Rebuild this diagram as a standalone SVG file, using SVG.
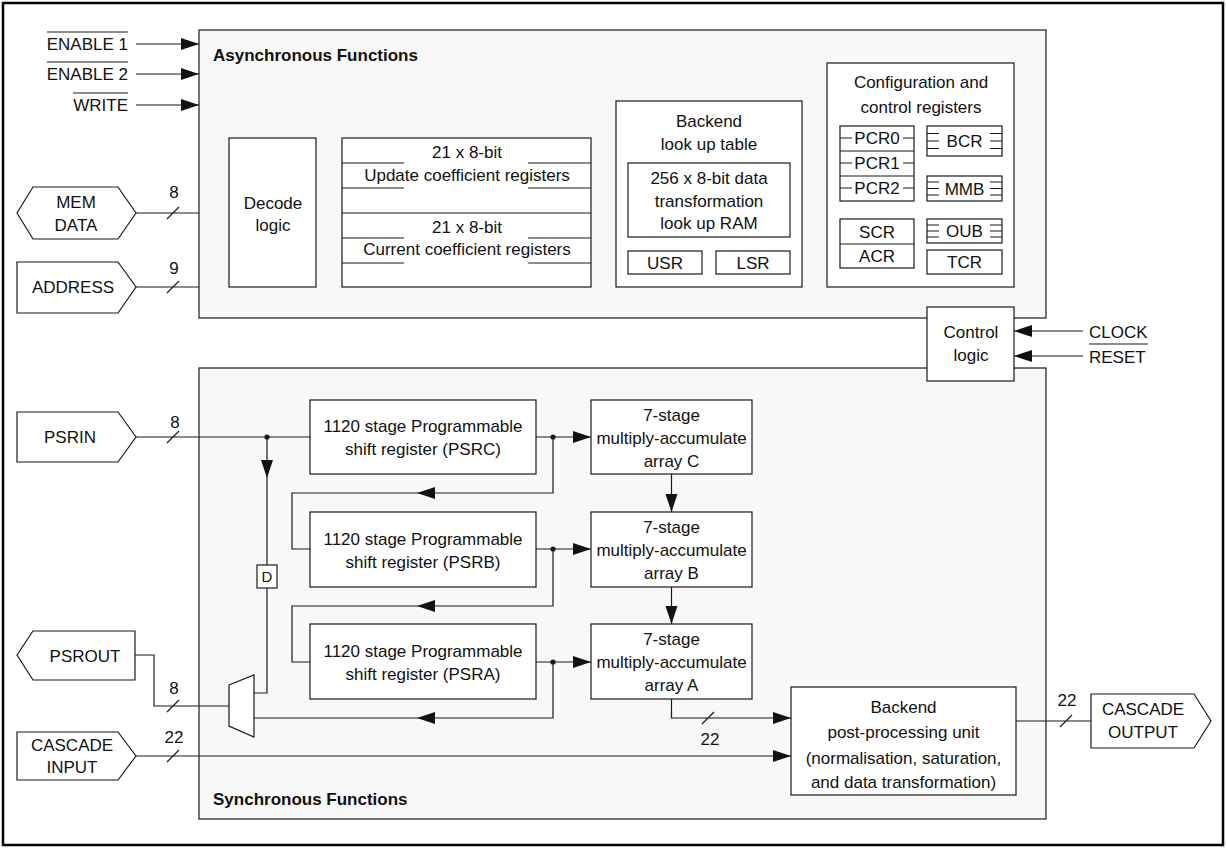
<svg xmlns="http://www.w3.org/2000/svg" xmlns:xlink="http://www.w3.org/1999/xlink" width="1226" height="848" viewBox="0 0 1226 848">
<defs>
<style>
.frame{fill:#fff;stroke:#000;stroke-width:2.5}
.region{fill:#f8f8f8;stroke:#1a1a1a;stroke-width:1.2}
.box{fill:#fff;stroke:#1a1a1a;stroke-width:1.2}
.w{fill:none;stroke:#1a1a1a;stroke-width:1.2}
.t{font-family:"Liberation Sans",Arial,sans-serif;font-size:17px;fill:#111;text-anchor:middle}
.l{text-anchor:start}
.r{text-anchor:end}
.b{font-weight:bold}
.dot{fill:#1a1a1a}
</style>
<path id="ah" d="M0,0 L-18,-6 L-18,6 Z" fill="#111"/>
</defs>
<rect class="frame" x="3" y="3" width="1220" height="842"/>

<g id="async-region">
<rect class="region" x="199" y="30" width="847" height="288"/>
<text class="t l b" x="213" y="61">Asynchronous Functions</text>
</g>
<g id="sync-region">
<rect class="region" x="199" y="368" width="847" height="451"/>
<text class="t l b" x="213" y="805">Synchronous Functions</text>
</g>

<g id="control-logic">
<rect class="box" x="927" y="307" width="87" height="74"/>
<text class="t" x="971" y="338">Control</text>
<text class="t" x="971" y="361">logic</text>
</g>

<g id="enable1">
<text class="t r" x="128" y="50">ENABLE 1</text>
<line class="w" x1="47" y1="32" x2="128" y2="32"/>
</g>
<g id="enable2">
<text class="t r" x="128" y="80">ENABLE 2</text>
<line class="w" x1="47" y1="62" x2="128" y2="62"/>
</g>
<g id="write">
<text class="t r" x="128" y="111">WRITE</text>
<line class="w" x1="73" y1="93" x2="128" y2="93"/>
</g>
<g id="clock"><text class="t l" x="1089" y="338">CLOCK</text></g>
<g id="reset">
<text class="t l" x="1089" y="363">RESET</text>
<line class="w" x1="1089" y1="344" x2="1148" y2="344"/>
</g>

<g id="memdata">
<polygon class="box" points="17,213 33,187 118,187 136,213 118,239 33,239"/>
<text class="t" x="76" y="208">MEM</text>
<text class="t" x="76" y="231">DATA</text>
</g>
<g id="address">
<polygon class="box" points="17,262 118,262 136,287 118,313 17,313"/>
<text class="t" x="73" y="293">ADDRESS</text>
</g>

<g id="decode">
<rect class="box" x="229" y="138" width="87" height="149"/>
<text class="t" x="273" y="209">Decode</text>
<text class="t" x="273" y="231">logic</text>
</g>

<g id="coef-regs">
<rect class="box" x="342" y="138" width="249" height="149"/>
<path class="w" d="M342,163H404M528,163H591M342,188H404M528,188H591M342,213H591M342,238H404M528,238H591M342,263H404M528,263H591"/>
<text class="t" x="467" y="158">21 x 8-bit</text>
<text class="t" x="467" y="181">Update coefficient registers</text>
<text class="t" x="467" y="233">21 x 8-bit</text>
<text class="t" x="467" y="255">Current coefficient registers</text>
</g>

<g id="backend-lut">
<rect class="box" x="616" y="101" width="186" height="186"/>
<text class="t" x="709" y="127">Backend</text>
<text class="t" x="709" y="150">look up table</text>
<rect class="box" x="628" y="163" width="162" height="74"/>
<text class="t" x="709" y="184">256 x 8-bit data</text>
<text class="t" x="709" y="207">transformation</text>
<text class="t" x="709" y="229">look up RAM</text>
</g>
<g id="usr">
<rect class="box" x="628" y="251" width="74" height="23"/>
<text class="t" x="665" y="269">USR</text>
</g>
<g id="lsr">
<rect class="box" x="716" y="251" width="74" height="23"/>
<text class="t" x="753" y="269">LSR</text>
</g>

<g id="config">
<rect class="box" x="827" y="63" width="187" height="224"/>
<text class="t" x="921" y="88">Configuration and</text>
<text class="t" x="921" y="113">control registers</text>
</g>
<g id="pcr">
<rect class="box" x="840" y="126" width="74" height="75"/>
<path class="w" d="M840,151H914M840,176H914M840,138H852M903,138H914M840,163H852M903,163H914M840,188H852M903,188H914"/>
<text class="t" x="877" y="144">PCR0</text>
<text class="t" x="877" y="169">PCR1</text>
<text class="t" x="877" y="194">PCR2</text>
</g>
<g id="bcr">
<rect class="box" x="927" y="126" width="75" height="30"/>
<path class="w" d="M927,133.5H939M927,141H939M927,148.5H939M990,133.5H1002M990,141H1002M990,148.5H1002"/>
<text class="t" x="964.5" y="147">BCR</text>
</g>
<g id="mmb">
<rect class="box" x="927" y="176" width="75" height="25"/>
<path class="w" d="M927,182H939M927,188.5H939M927,195H939M990,182H1002M990,188.5H1002M990,195H1002"/>
<text class="t" x="964.5" y="194.5">MMB</text>
</g>
<g id="scr-acr">
<rect class="box" x="840" y="219" width="74" height="49"/>
<path class="w" d="M840,244H914"/>
<text class="t" x="877" y="238">SCR</text>
<text class="t" x="877" y="262">ACR</text>
</g>
<g id="oub">
<rect class="box" x="927" y="219" width="75" height="24"/>
<path class="w" d="M927,225H939M927,231H939M927,237H939M990,225H1002M990,231H1002M990,237H1002"/>
<text class="t" x="964.5" y="237">OUB</text>
</g>
<g id="tcr">
<rect class="box" x="927" y="250" width="75" height="24"/>
<text class="t" x="964.5" y="268">TCR</text>
</g>

<g id="psrin">
<polygon class="box" points="17,412 118,412 136,437 118,462 17,462"/>
<text class="t" x="70" y="443">PSRIN</text>
</g>
<g id="psrout">
<polygon class="box" points="17,655 33,631 135,631 135,680 33,680"/>
<text class="t" x="85" y="662">PSROUT</text>
</g>
<g id="cascade-input">
<polygon class="box" points="17,732 118,732 136,756 118,780 17,780"/>
<text class="t" x="72" y="751">CASCADE</text>
<text class="t" x="72" y="773">INPUT</text>
</g>
<g id="cascade-output">
<polygon class="box" points="1091,694 1194,694 1211,721 1194,748 1091,748"/>
<text class="t" x="1143" y="715">CASCADE</text>
<text class="t" x="1143" y="738">OUTPUT</text>
</g>

<g id="psrc">
<rect class="box" x="310" y="400" width="226" height="74"/>
<text class="t" x="423" y="432">1120 stage Programmable</text>
<text class="t" x="423" y="455">shift register (PSRC)</text>
</g>
<g id="psrb">
<rect class="box" x="310" y="512" width="226" height="75"/>
<text class="t" x="423" y="545">1120 stage Programmable</text>
<text class="t" x="423" y="568">shift register (PSRB)</text>
</g>
<g id="psra">
<rect class="box" x="310" y="624" width="226" height="75"/>
<text class="t" x="423" y="657">1120 stage Programmable</text>
<text class="t" x="423" y="680">shift register (PSRA)</text>
</g>
<g id="mac-c">
<rect class="box" x="591" y="400" width="161" height="74"/>
<text class="t" x="671.5" y="421">7-stage</text>
<text class="t" x="671.5" y="444">multiply-accumulate</text>
<text class="t" x="671.5" y="467">array C</text>
</g>
<g id="mac-b">
<rect class="box" x="591" y="512" width="161" height="75"/>
<text class="t" x="671.5" y="533">7-stage</text>
<text class="t" x="671.5" y="556">multiply-accumulate</text>
<text class="t" x="671.5" y="579">array B</text>
</g>
<g id="mac-a">
<rect class="box" x="591" y="624" width="161" height="75"/>
<text class="t" x="671.5" y="645">7-stage</text>
<text class="t" x="671.5" y="668">multiply-accumulate</text>
<text class="t" x="671.5" y="691">array A</text>
</g>
<g id="backend-ppu">
<rect class="box" x="791" y="687" width="225" height="108"/>
<text class="t" x="903.5" y="713">Backend</text>
<text class="t" x="903.5" y="738">post-processing unit</text>
<text class="t" x="903.5" y="764">(normalisation, saturation,</text>
<text class="t" x="903.5" y="788">and data transformation)</text>
</g>
<g id="delay">
<rect class="box" x="257" y="565" width="20" height="23"/>
<text class="t" x="267" y="582" style="font-size:15px">D</text>
</g>
<g id="mux">
<polygon class="box" points="229,685 254,675 254,737 229,726"/>
</g>

<g id="connectors">
<path class="w" d="M136,44H199M136,74H199M136,105H199"/>
<use xlink:href="#ah" transform="translate(199,44)"/>
<use xlink:href="#ah" transform="translate(199,74)"/>
<use xlink:href="#ah" transform="translate(199,105)"/>
<path class="w" d="M1083,331H1014M1083,356H1014"/>
<use xlink:href="#ah" transform="translate(1014,331) rotate(180)"/>
<use xlink:href="#ah" transform="translate(1014,356) rotate(180)"/>

<path class="w" d="M136,213H199M167,219L179,207"/>
<text class="t" x="174" y="198">8</text>
<path class="w" d="M136,287H199M167,293L179,281"/>
<text class="t" x="174" y="274">9</text>

<path class="w" d="M136,437H310M167,443L179,431"/>
<text class="t" x="175" y="428">8</text>
<circle class="dot" cx="267" cy="437" r="2.6"/>
<path class="w" d="M267,437V565M267,588V693H254"/>
<use xlink:href="#ah" transform="translate(267,478) rotate(90)"/>

<path class="w" d="M536,437H591"/>
<circle class="dot" cx="553" cy="437" r="2.6"/>
<use xlink:href="#ah" transform="translate(591,437)"/>
<path class="w" d="M553,437V493H292V549H310"/>
<use xlink:href="#ah" transform="translate(417,493) rotate(180)"/>

<path class="w" d="M536,549H591"/>
<circle class="dot" cx="553" cy="549" r="2.6"/>
<use xlink:href="#ah" transform="translate(591,549)"/>
<path class="w" d="M553,549V606H292V662H310"/>
<use xlink:href="#ah" transform="translate(417,606) rotate(180)"/>

<path class="w" d="M536,662H591"/>
<circle class="dot" cx="553" cy="662" r="2.6"/>
<use xlink:href="#ah" transform="translate(591,662)"/>
<path class="w" d="M553,662V718H254"/>
<use xlink:href="#ah" transform="translate(417,718) rotate(180)"/>

<path class="w" d="M671.5,474V512"/>
<use xlink:href="#ah" transform="translate(671.5,512) rotate(90)"/>
<path class="w" d="M671.5,587V624"/>
<use xlink:href="#ah" transform="translate(671.5,624) rotate(90)"/>

<path class="w" d="M671.5,699V718H791M702,724L714,712"/>
<use xlink:href="#ah" transform="translate(791,718)"/>
<text class="t" x="710" y="745">22</text>

<path class="w" d="M229,706H154V655H135M167,712L179,700"/>
<text class="t" x="174" y="694">8</text>

<path class="w" d="M136,756H791M167,762L179,750"/>
<use xlink:href="#ah" transform="translate(791,756)"/>
<text class="t" x="174" y="743">22</text>

<path class="w" d="M1016,721H1091M1060,727L1072,715"/>
<text class="t" x="1067" y="706">22</text>
</g>
</svg>
